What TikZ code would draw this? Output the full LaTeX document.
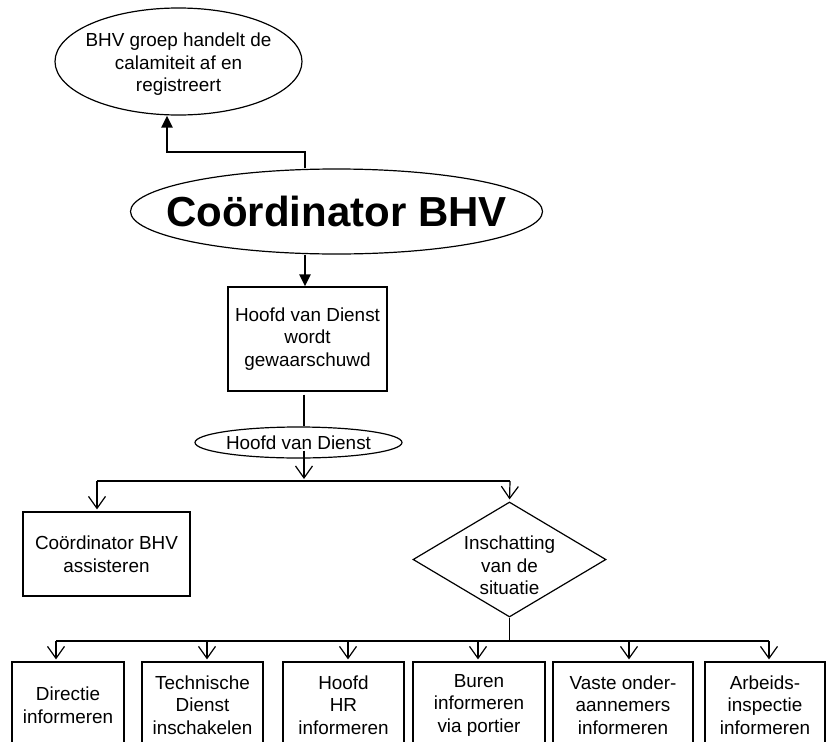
\documentclass[tikz,border=0pt]{standalone}
\usepackage{fontspec}
\setmainfont{Liberation Sans}
\usetikzlibrary{shapes.geometric,arrows.meta}
\begin{document}
\begin{tikzpicture}[x=1pt,y=-1pt,font=\fontsize{18.9}{22.5}\selectfont,align=center,
  box/.style={draw,line width=1.2pt,inner sep=0pt},
  oval/.style={draw,ellipse,line width=1.2pt,inner sep=0pt},
  keuze/.style={draw,diamond,line width=1.2pt,inner sep=0pt},
  onder/.style={box,minimum height=86pt},
  dik/.style={line width=2.6pt,-{Triangle[length=12pt,width=11pt]}},
  dun/.style={line width=1.2pt},
  pijl/.style={line width=1.2pt,-{Straight Barb[length=12pt,width=17pt]},shorten >=2pt}]
  \useasboundingbox (0,0) rectangle (836,742);
  \node[oval,minimum width=247pt,minimum height=107pt,
    label={[yshift=-3pt]center:BHV groep handelt de\\calamiteit af en\\registreert}] (groep) at (178.5,61.5) {};
  \node[oval,minimum width=412pt,minimum height=85pt,
    label={[font=\fontsize{42}{48}\selectfont\bfseries]center:Coördinator BHV}] (coord) at (336.5,211.5) {};
  \node[box,minimum width=159pt,minimum height=104pt] (gewaar) at (307.5,339){Hoofd van Dienst\\wordt\\gewaarschuwd};
  \node[oval,minimum width=207pt,minimum height=31pt] (hvd) at (298.5,442.5){Hoofd van Dienst};
  \node[box,minimum width=167pt,minimum height=84pt] (assist) at (106.5,554){Coördinator BHV\\assisteren};
  \node[keuze,minimum width=193pt,minimum height=115pt,
    label={[yshift=-6pt]center:Inschatting\\van de\\situatie}] (inschat) at (509.5,559.5){};
  \node[onder,minimum width=112pt] (directie) at (68,705){Directie\\informeren};
  \node[onder,minimum width=121pt] (techniek) at (202.5,705){Technische\\Dienst\\inschakelen};
  \node[onder,minimum width=121pt] (hr) at (343.5,705){Hoofd\\HR\\informeren};
  \node[onder,minimum width=132pt] (buren) at (479,705){Buren\\informeren\\via portier};
  \node[onder,minimum width=140pt] (aannemers) at (623,705){Vaste onder-\\aannemers\\informeren};
  \node[onder,minimum width=120pt] (inspectie) at (765,705){Arbeids-\\inspectie\\informeren};
  \coordinate (knik) at (167,152);
  \coordinate (splits) at (304,481);
  \coordinate (links) at (97,481);
  \coordinate (rechts) at (510,481);
  \coordinate (busl) at (56,641);
  \coordinate (busr) at (769,641);
  \draw[dik] (coord.north -| 305,0) |- (knik) -- (groep.south -| knik);
  \draw[dik] (coord.south -| 305,0) -- (gewaar.north -| 305,0);
  \draw[dun] ([yshift=-3pt]gewaar.south -| splits) -- (hvd.north -| splits);
  \draw[pijl] (hvd.center -| splits) ++(0,8) -- (splits);
  \draw[dun] (links) -- (rechts);
  \draw[pijl] (links) -- (assist.north -| links);
  \draw[pijl] (rechts) -- (inschat.north);
  \draw[dun] (inschat.south) -- (inschat.south |- busl);
  \draw[dun] (busl) -- (busr);
  \draw[pijl] (busl) -- (directie.north -| busl);
  \draw[pijl] (207,641) -- (techniek.north -| 207,0);
  \draw[pijl] (348,641) -- (hr.north -| 348,0);
  \draw[pijl] (478,641) -- (buren.north -| 478,0);
  \draw[pijl] (629,641) -- (aannemers.north -| 629,0);
  \draw[pijl] (busr) -- (inspectie.north -| busr);
\end{tikzpicture}
\end{document}
